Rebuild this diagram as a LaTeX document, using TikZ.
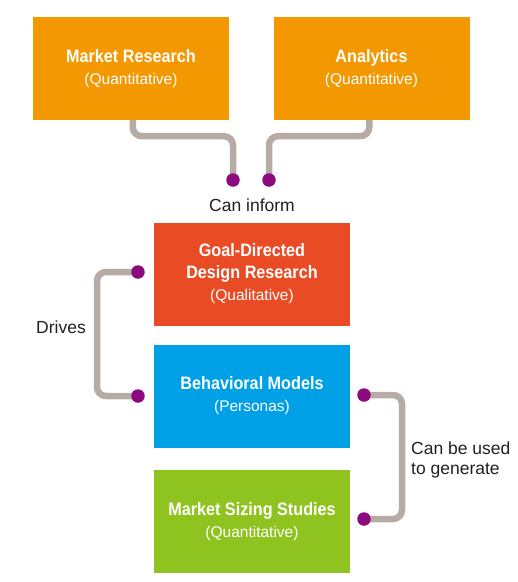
\documentclass[tikz,border=0pt]{standalone}
\usepackage{fontspec}
\setmainfont{Liberation Sans}
\newfontfamily\boxfont[FakeStretch=0.9]{Liberation Sans}
\usetikzlibrary{backgrounds}
\definecolor{cOrange}{RGB}{243,152,0}
\definecolor{cRed}{RGB}{233,75,37}
\definecolor{cBlue}{RGB}{0,160,230}
\definecolor{cGreen}{RGB}{143,195,31}
\definecolor{cGray}{RGB}{182,172,165}
\definecolor{cPurple}{RGB}{140,10,125}
\definecolor{cText}{RGB}{35,31,32}
\newcommand{\subt}[1]{{\rmfamily\mdseries\fontsize{15.5}{22}\selectfont #1}}
\tikzset{
  boxnode/.style={minimum width=196pt, minimum height=103pt, inner sep=0pt,
    text=white, align=center, font=\boxfont\bfseries\fontsize{18}{22}\selectfont},
  conn/.style={draw=cGray, line width=6.5pt, rounded corners=9pt},
  dotnode/.style={circle, fill=cPurple, minimum size=13.5pt, inner sep=0pt},
  lbl/.style={text=cText, font=\fontsize{17.5}{19.5}\selectfont, inner sep=0pt}
}
\begin{document}
\begin{tikzpicture}[x=1pt,y=-1pt]
\useasboundingbox (0,0) rectangle (518,582);
% boxes
\node[boxnode, fill=cOrange] (mr) at (131,68.5) {Market Research\\\subt{(Quantitative)}};
\node[boxnode, fill=cOrange] (an) at (371.5,68.5) {Analytics\\\subt{(Quantitative)}};
\node[boxnode, fill=cRed] (gd) at (252,274) {Goal-Directed\\Design Research\\\subt{(Qualitative)}};
\node[boxnode, fill=cBlue] (bm) at (252,396) {Behavioral Models\\\subt{(Personas)}};
\node[boxnode, fill=cGreen] (ms) at (252,521.5) {Market Sizing Studies\\\subt{(Quantitative)}};
% dots
\node[dotnode] (d1) at (233,180) {};
\node[dotnode] (d2) at (269,180) {};
\node[dotnode] (d3) at (138,272) {};
\node[dotnode] (d4) at (138,396) {};
\node[dotnode] (d5) at (364,395) {};
\node[dotnode] (d6) at (364,519) {};
% connectors
\begin{scope}[on background layer]
\draw[conn] ([xshift=100pt]mr.south west) -- ++(0,16) -| (d1.center);
\draw[conn] ([xshift=96pt]an.south west) -- ++(0,16) -| (d2.center);
\draw[conn] (d3.center) -- ++(-41,0) |- (d4.center);
\draw[conn] (d5.center) -- ++(38,0) |- (d6.center);
\end{scope}
% labels
\node[lbl, anchor=base] (l1) at (252,211) {Can inform};
\node[lbl, anchor=base] (l2) at (61,333) {Drives};
\node[lbl, anchor=west, align=left] (l3) at (411,460) {Can be used\\to generate};
\end{tikzpicture}
\end{document}
